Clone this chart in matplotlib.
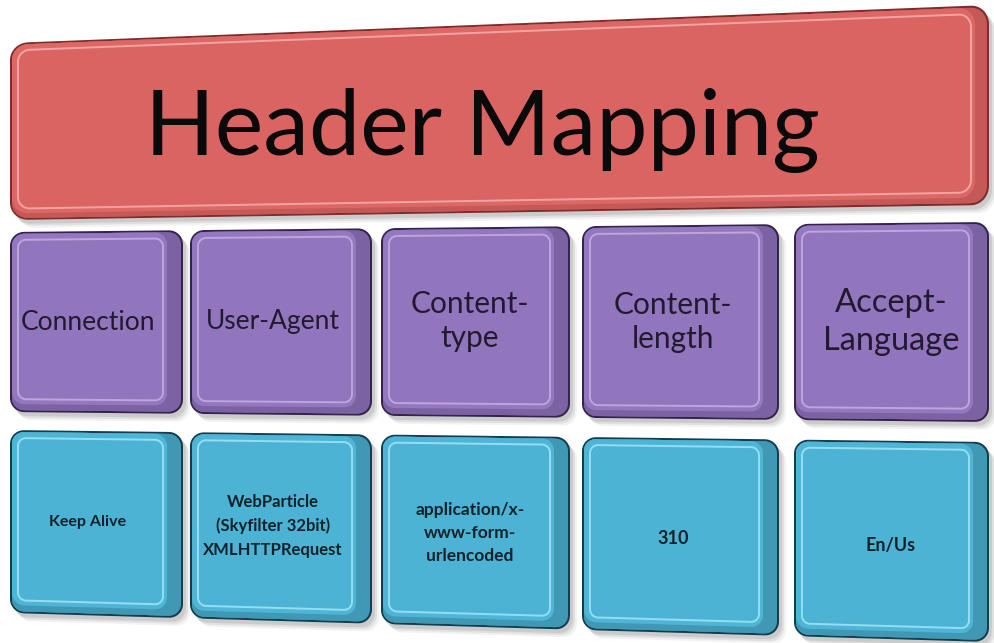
import numpy as np
import matplotlib
matplotlib.use("Agg")
import matplotlib.pyplot as plt
from matplotlib.colors import to_rgb
from matplotlib.patches import PathPatch
from matplotlib.path import Path

plt.rcParams["font.family"] = ["Lato", "DejaVu Sans"]

# --- content ---
title = "Header Mapping"
header_names = ["Connection", "User-Agent", "Content-\ntype", "Content-\nlength", "Accept-\nLanguage"]
header_values = ["Keep Alive", "WebParticle\n(Skyfilter 32bit)\nXMLHTTPRequest",
                 "application/x-\nwww-form-\nurlencoded", "310", "En/Us"]

# --- layout (pixel coords, y down) ---
col_edges = [(10, 183), (190, 372), (381, 570), (582, 779), (794, 989)]
# each row: (top y at x=10, top y at x=989, bottom y at x=10, bottom y at x=989)
title_row = (43, 5, 220, 205)
name_row = (232, 222, 412, 422)
value_row = (430, 442, 613, 642)
text_x = [88, 273, 470, 673, 891]
name_sizes = [19, 19, 21.5, 21.5, 23.5]
value_sizes = [11.5, 12, 12.5, 13, 13]
name_text_y = [322, 322, 321, 322, 322]
value_text_y = [522, 526, 533, 538, 545]

STYLES = {
    "red": dict(base="#dc6866", dark="#7e2c2c", light="#f3a4a2", inner="#d96462"),
    "purple": dict(base="#9377bf", dark="#34244d", light="#bca6dd", inner="#9175bd"),
    "teal": dict(base="#4fb5d6", dark="#123f50", light="#95def2", inner="#4db3d4"),
}


def row_y(row, x):
    t = (x - 10) / (989 - 10)
    top = row[0] + (row[1] - row[0]) * t
    bot = row[2] + (row[3] - row[2]) * t
    return top, bot


def quad(x0, x1, row):
    t0, b0 = row_y(row, x0)
    t1, b1 = row_y(row, x1)
    return (x0, t0), (x1, t1), (x1, b1), (x0, b0)


def rounded_quad(corners, r, left=0, top=0, right=0, bottom=0, dx=0, dy=0):
    tl, tr, br, bl = [np.array(c, float) for c in corners]
    W = (tr[0] - tl[0] + br[0] - bl[0]) / 2
    H = (bl[1] - tl[1] + br[1] - tr[1]) / 2
    xa, xb, ya, yb = left, W - right, top, H - bottom
    pts = []
    arcs = [((xb - r, ya + r), -90, 0), ((xb - r, yb - r), 0, 90),
            ((xa + r, yb - r), 90, 180), ((xa + r, ya + r), 180, 270)]
    for (cx, cy), a0, a1 in arcs:
        for a in np.radians(np.linspace(a0, a1, 12)):
            pts.append((cx + r * np.cos(a), cy + r * np.sin(a)))
    out = []
    for x, y in pts:
        u, v = x / W, y / H
        p = (1 - u) * (1 - v) * tl + u * (1 - v) * tr + u * v * br + (1 - u) * v * bl
        out.append((p[0] + dx, p[1] + dy))
    out.append(out[0])
    codes = [Path.MOVETO] + [Path.LINETO] * (len(out) - 2) + [Path.CLOSEPOLY]
    return Path(out, codes)


def bevel_box(ax, corners, style, r=14, depth=14):
    s = STYLES[style]
    for k, a in [(7, 0.05), (5, 0.07), (3, 0.09)]:
        ax.add_patch(PathPatch(rounded_quad(corners, r, dx=k, dy=k + 1), fc="#000000", ec="none", alpha=a))
    ax.add_patch(PathPatch(rounded_quad(corners, r), fc=s["dark"], ec="none"))
    # depth gradient on the right side
    col, dk = to_rgb(s["base"]), to_rgb(s["dark"])
    for k in range(depth, 1, -1):
        f = (k - 2) / (depth - 2)
        mix = tuple(dk[i] + (col[i] - dk[i]) * (1 - f) * 0.75 for i in range(3))
        ax.add_patch(PathPatch(rounded_quad(corners, r - 2, left=2, top=2, right=k, bottom=max(2, k // 2)),
                               fc=mix, ec="none"))
    ax.add_patch(PathPatch(rounded_quad(corners, r - 2, left=2, top=2, right=depth + 2, bottom=depth // 2 + 1),
                           fc=s["base"], ec="none"))
    ax.add_patch(PathPatch(rounded_quad(corners, r - 6, left=8, top=8, right=depth + 6, bottom=depth // 2 + 6),
                           fc=s["inner"], ec=s["light"], lw=1.4))


fig = plt.figure(figsize=(9.94, 6.43), dpi=100)
ax = fig.add_axes([0, 0, 1, 1])
ax.set_xlim(0, 994)
ax.set_ylim(643, 0)
ax.axis("off")

bevel_box(ax, quad(10, 989, title_row), "red", r=18, depth=12)
ax.text(482, 155, title, fontsize=66, ha="center", va="baseline", color="#0a0a0a")

for i, (x0, x1) in enumerate(col_edges):
    bevel_box(ax, quad(x0, x1, name_row), "purple")
    ax.text(text_x[i], name_text_y[i], header_names[i], fontsize=name_sizes[i],
            ha="center", va="center", color="#231a30", linespacing=1.3)
    bevel_box(ax, quad(x0, x1, value_row), "teal")
    ax.text(text_x[i], value_text_y[i], header_values[i], fontsize=value_sizes[i],
            ha="center", va="center", color="#15222a", linespacing=1.55, fontweight="bold")

fig.savefig("out.png", dpi=100)
